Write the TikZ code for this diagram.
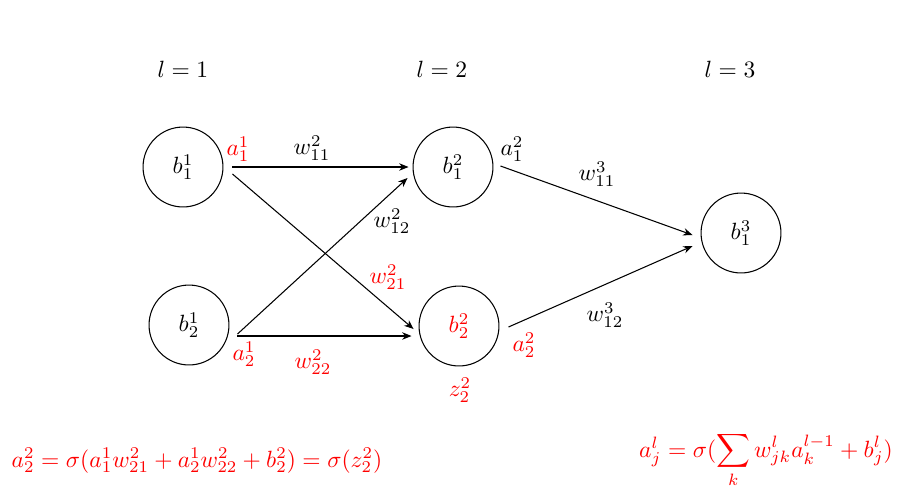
\documentclass[tikz,border=0pt]{standalone}
\usetikzlibrary{arrows.meta,calc}
\begin{document}
\begin{tikzpicture}[x=0.4255pt,y=-0.4255pt,
  neuron/.style={circle,draw,line width=0.45pt,minimum size=34pt,inner sep=0pt},
  conn/.style={-{Stealth[length=4pt,width=3.2pt]},line width=0.45pt},
  lbl/.style={inner sep=0pt},
  hl/.style={inner sep=0pt,text=red}]
\useasboundingbox (0,0) rectangle (904,492);
% layer titles
\node[lbl] (t1) at (183,69) {$l=1$};
\node[lbl] (t2) at (442,69) {$l=2$};
\node[lbl] (t3) at (730,69) {$l=3$};
% neurons
\node[neuron] (b11) at (183,167) {$b^1_1$};
\node[neuron] (b21) at (189,325) {$b^1_2$};
\node[neuron] (b12) at (453,167) {$b^2_1$};
\node[neuron,text=red] (b22) at (459,326) {$b^2_2$};
\node[neuron] (b13) at (741,233) {$b^3_1$};
% connectors
\draw[conn] ($(b11.east)+(9,0)$) -- ($(b12.west)+(-4,0)$);
\draw[conn] ($(b11.east)+(9,7)$) -- ($(b22.west)+(-5,3)$);
\draw[conn] ($(b21.east)+(8,9)$) -- ($(b12.west)+(-5,11)$);
\draw[conn] ($(b21.east)+(8,11)$) -- ($(b22.west)+(-7,10)$);
\draw[conn] ($(b12.east)+(7,-1)$) -- ($(b13.west)+(-8,2)$);
\draw[conn] ($(b22.east)+(9,1)$) -- ($(b13.west)+(-8,13)$);
% labels
\node[hl] (a11) at (238,149) {$a^1_1$};
\node[lbl] (w112) at (312,148) {$w^2_{11}$};
\node[lbl] (a12) at (512,149) {$a^2_1$};
\node[lbl] (w122) at (392,221) {$w^2_{12}$};
\node[hl] (w212) at (388,277) {$w^2_{21}$};
\node[hl] (a21) at (244,354) {$a^1_2$};
\node[hl] (w222) at (313,362) {$w^2_{22}$};
\node[hl] (z22) at (460,390) {$z^2_2$};
\node[hl] (a22) at (524,345) {$a^2_2$};
\node[lbl] (w113) at (597,174) {$w^3_{11}$};
\node[lbl] (w123) at (605,315) {$w^3_{12}$};
% formulas
\node[hl,anchor=base] (f1) at (197,467) {$a^2_2=\sigma(a^1_1w^2_{21}+a^1_2w^2_{22}+b^2_2)=\sigma(z^2_2)$};
\node[hl,anchor=base] (f2) at (766,457) {$a^l_j=\sigma(\displaystyle\sum_k w^l_{jk}a^{l-1}_k+b^l_j)$};
\end{tikzpicture}
\end{document}
